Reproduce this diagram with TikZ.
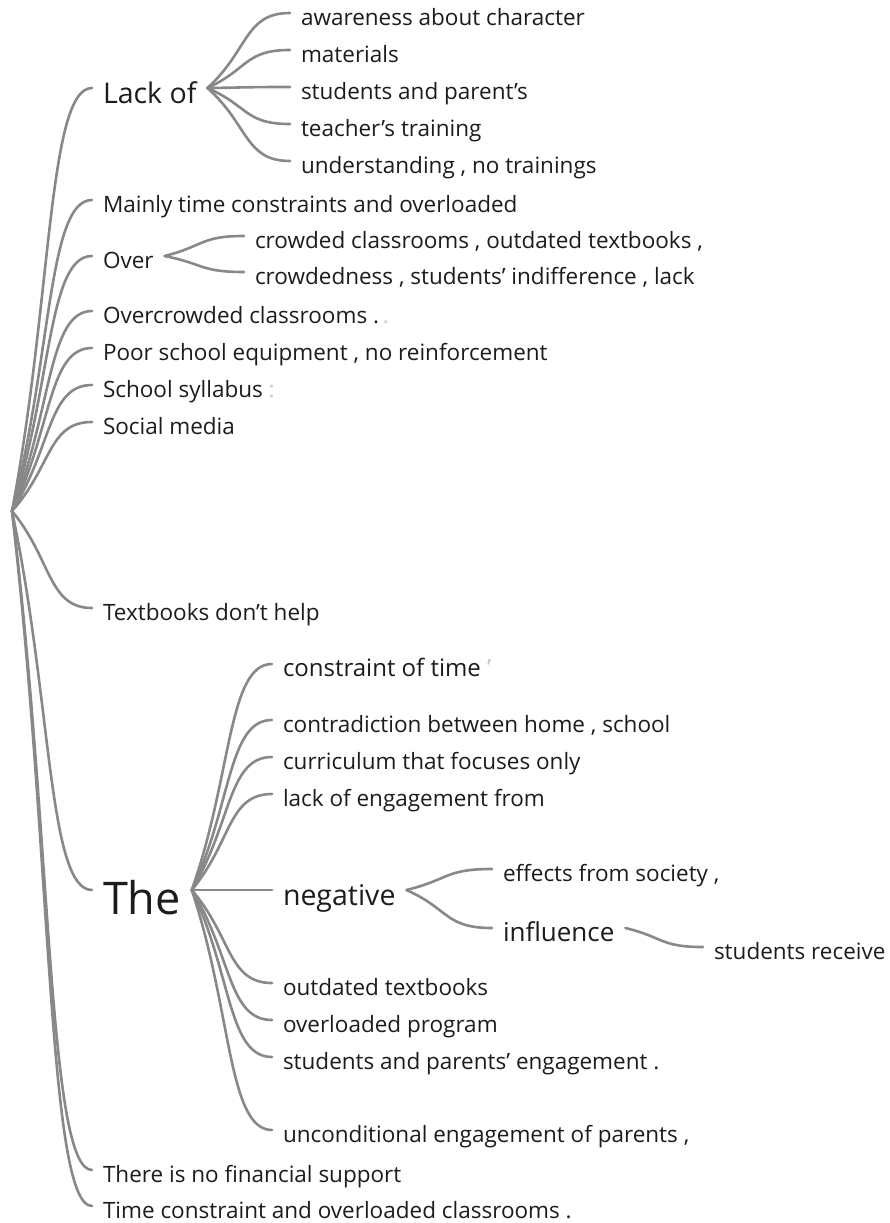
\documentclass[tikz,border=0pt]{standalone}
\usepackage{fontspec}
\setmainfont{Open Sans}
\usetikzlibrary{calc}
\definecolor{branch}{HTML}{888888}
\definecolor{txt}{HTML}{1C1C1C}
\definecolor{faint}{HTML}{C8C8C8}
\tikzset{
  lnk/.style={draw=branch, line width=2.6pt, line cap=round},
  wt/.style={anchor=west, inner sep=0pt, outer xsep=11pt, text depth=0pt, text=txt},
  f23/.style={wt, font=\fontsize{22.5}{26}\selectfont, text height=24.1pt},
  f24/.style={wt, font=\fontsize{24}{28}\selectfont, text height=25.7pt},
  f26/.style={wt, font=\fontsize{26}{30}\selectfont, text height=27.8pt},
  f28/.style={wt, font=\fontsize{28.5}{32}\selectfont, text height=30.5pt},
  f45/.style={wt, font=\fontsize{45}{50}\selectfont, text height=48.2pt},
}
\newcommand\wtlink[2]{\path[lnk] (#1) .. controls ($(#1)!0.5!(#2)$) and ($(#1|-#2)!0.45!(#2)$) .. (#2);}
\begin{document}
\begin{tikzpicture}[x=1pt,y=-1pt]
\fill[white] (0,0) rectangle (889,1223);
\useasboundingbox (0,0) rectangle (889,1223);
\coordinate (root) at (12,511);
% level 1
\node[f28] (lack) at (92,88) {Lack of};
\node[f23] (mainly) at (92,200) {Mainly time constraints and overloaded};
\node[f23] (over) at (92,256) {Over};
\node[f23] (overc) at (92,311) {Overcrowded classrooms .\,{\color{faint}.}};
\node[f23] (poor) at (92,348) {Poor school equipment , no reinforcement};
\node[f23] (syll) at (92,385) {School syllabus {\color{faint}:}};
\node[f23] (social) at (92,422) {Social media};
\node[f23] (textb) at (92,608) {Textbooks don’t help};
\node[f45] (the) at (92,890) {The};
\node[f23] (nofin) at (92,1170) {There is no financial support};
\node[f23] (timec) at (92,1206) {Time constraint and overloaded classrooms .};
% Lack of
\node[f23] (aware) at (290,13) {awareness about character};
\node[f23] (mat) at (290,50) {materials};
\node[f23] (stpar) at (290,87) {students and parent’s};
\node[f23] (teach) at (290,124) {teacher’s training};
\node[f23] (under) at (290,161) {understanding , no trainings};
% Over
\node[f23] (crowd) at (244,236) {crowded classrooms , outdated textbooks ,};
\node[f23] (crowdd) at (244,272) {crowdedness , students’ indifference , lack};
% The
\node[f24] (cot) at (272,664) {constraint of time {\color{faint}'}};
\node[f23] (contr) at (272,720) {contradiction between home , school};
\node[f23] (curr) at (272,757) {curriculum that focuses only};
\node[f23] (leng) at (272,794) {lack of engagement from};
\node[f28] (neg) at (272,890) {negative};
\node[f23] (outd) at (272,983) {outdated textbooks};
\node[f23] (overl) at (272,1020) {overloaded program};
\node[f23] (stpe) at (272,1057) {students and parents’ engagement .};
\node[f23] (uncond) at (272,1130) {unconditional engagement of parents ,};
% negative
\node[f23] (eff) at (492,869) {effects from society ,};
\node[f26] (infl) at (492,928) {influence};
% influence
\node[f23] (stud) at (703,947) {students receive};
% links
\foreach \n in {lack,mainly,over,overc,poor,syll,social,textb,the,nofin,timec}
  {\wtlink{root}{\n.west}}
\foreach \n in {aware,mat,stpar,teach,under}
  {\wtlink{lack.east}{\n.west}}
\foreach \n in {crowd,crowdd}
  {\wtlink{over.east}{\n.west}}
\foreach \n in {cot,contr,curr,leng,neg,outd,overl,stpe,uncond}
  {\wtlink{the.east}{\n.west}}
\foreach \n in {eff,infl}
  {\wtlink{neg.east}{\n.west}}
\wtlink{infl.east}{stud.west}
\end{tikzpicture}
\end{document}
